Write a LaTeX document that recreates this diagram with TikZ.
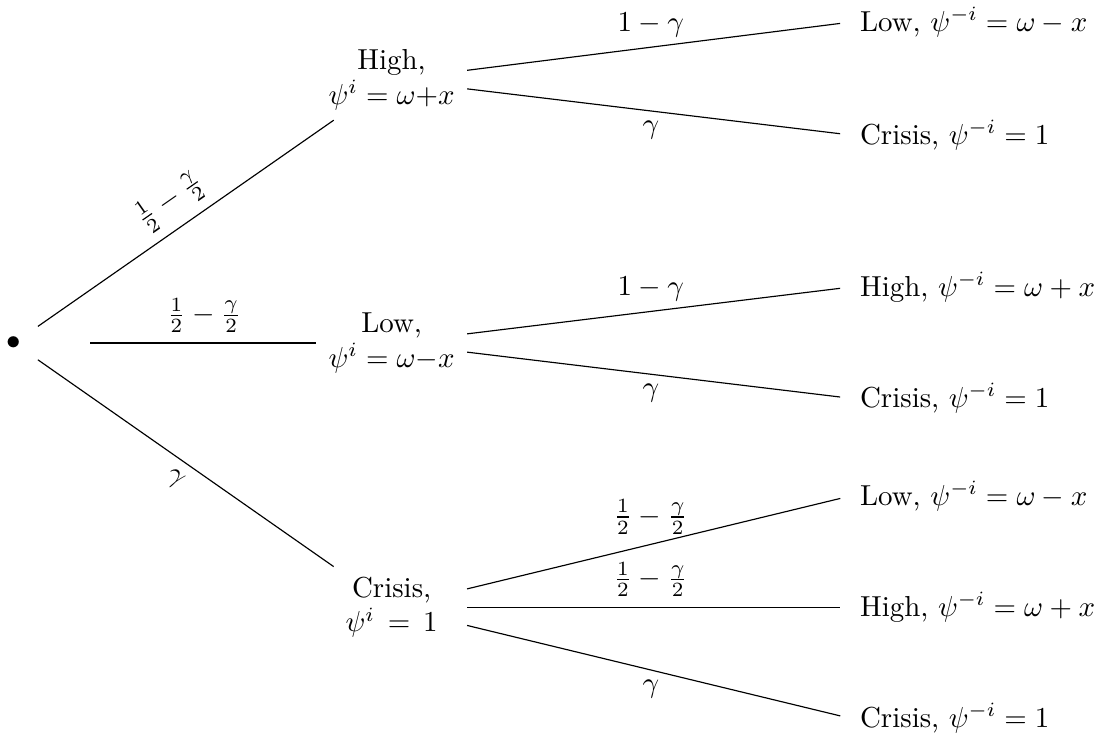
\documentclass[tikz,border=0pt]{standalone}
\usetikzlibrary{positioning}

\begin{document}
\begin{tikzpicture}[
  state/.style={align=center,minimum width=1.82cm},
  leaf/.style={anchor=west},
  twig/.style={shorten >=1.2mm},
]
  \useasboundingbox (-0.17,-4.82) rectangle (13.2,4.17);
  \node[circle,inner sep=0pt,minimum size=6.95mm] (root) at (0,0) {$\bullet$};
  \node[state] (high) at (4.59,3.2) {High,\\$\psi^i=\omega{+}x$};
  \node[state] (low) at (4.59,0) {Low,\\$\psi^i=\omega{-}x$};
  \node[state] (crisis) at (4.59,-3.21) {Crisis,\\$\psi^i\,=\,1$};

  \node[leaf] (hl) at (10.16,3.9) {Low, $\psi^{-i}=\omega-x$};
  \node[leaf] (hc) at (10.16,2.53) {Crisis, $\psi^{-i}=1$};
  \node[leaf] (lh) at (10.16,0.68) {High, $\psi^{-i}=\omega+x$};
  \node[leaf] (lc) at (10.16,-0.67) {Crisis, $\psi^{-i}=1$};
  \node[leaf] (cl) at (10.16,-1.86) {Low, $\psi^{-i}=\omega-x$};
  \node[leaf] (ch) at (10.16,-3.21) {High, $\psi^{-i}=\omega+x$};
  \node[leaf] (cc) at (10.16,-4.56) {Crisis, $\psi^{-i}=1$};

  \draw (root) -- node[above,sloped] {$\frac{1}{2}-\frac{\gamma}{2}$} (high);
  \draw[shorten <=5.7mm] (root) -- node[pos=0.59,above] {$\frac{1}{2}-\frac{\gamma}{2}$} (low);
  \draw (root) -- node[below,sloped] {$\gamma$} (crisis);
  \foreach \a/\b/\p/\s in {high/hl/{$1-\gamma$}/above,high/hc/{$\gamma$}/below,
    low/lh/{$1-\gamma$}/above,low/lc/{$\gamma$}/below,
    crisis/cl/{$\frac{1}{2}-\frac{\gamma}{2}$}/above,crisis/ch/{$\frac{1}{2}-\frac{\gamma}{2}$}/above,
    crisis/cc/{$\gamma$}/below}
    \draw[twig] (\a) -- node[pos=0.48,\s] {\p} (\b.west);
\end{tikzpicture}
\end{document}
